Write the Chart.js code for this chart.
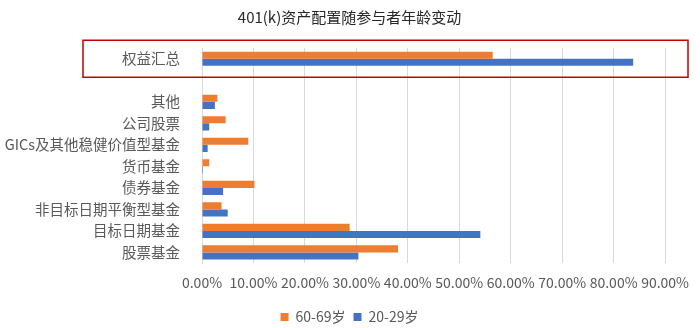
<!DOCTYPE html>
<html>
<head>
<meta charset="utf-8">
<script src="https://cdn.jsdelivr.net/npm/chart.js@4/dist/chart.umd.min.js"></script>
<style>
  html, body { margin: 0; padding: 0; background: #fff; }
  #wrap { width: 700px; height: 328px; position: relative; }
</style>
</head>
<body>
<div id="wrap"><canvas id="assetChart"></canvas></div>
<script>
const categories = ["权益汇总", "", "其他", "公司股票", "GICs及其他稳健价值型基金", "货币基金", "债券基金", "非目标日期平衡型基金", "目标日期基金", "股票基金"];
const age6069 = [56.5, null, 3.0, 4.6, 9.0, 1.4, 10.2, 3.8, 28.7, 38.1];
const age2029 = [83.8, null, 2.5, 1.4, 1.1, 0.2, 4.1, 5.0, 54.1, 30.4];
const seriesNames = ["60-69岁", "20-29岁"];

const FONT = "'Microsoft YaHei', 'Noto Sans CJK SC', sans-serif";

// 红框圈出“权益汇总”
const redBox = {
  id: "redBox",
  afterDraw(chart) {
    const y = chart.scales.y;
    const cy = y.getPixelForValue(0);
    const c = chart.ctx;
    c.save();
    c.strokeStyle = "#c00000";
    c.lineWidth = 1.5;
    c.strokeRect(83, cy - 18.5, 605, 37);
    c.restore();
  }
};

new Chart(document.getElementById("assetChart").getContext("2d"), {
  type: "bar",
  data: {
    labels: categories,
    datasets: [
      { label: seriesNames[0], data: age6069, backgroundColor: "#ED7D31" },
      { label: seriesNames[1], data: age2029, backgroundColor: "#4472C4" }
    ]
  },
  options: {
    indexAxis: "y",
    responsive: true,
    maintainAspectRatio: false,
    animation: false,
    layout: { padding: { left: 2, right: 3, top: 4, bottom: -6 } },
    datasets: { bar: { categoryPercentage: 0.66, barPercentage: 1.0 } },
    scales: {
      x: {
        min: 0,
        max: 90,
        ticks: {
          stepSize: 10,
          padding: 11,
          maxRotation: 0,
          minRotation: 0,
          autoSkip: false,
          color: "#595959",
          font: { family: FONT, size: 14 },
          callback: v => v.toFixed(2) + "%"
        },
        grid: { color: "#d9d9d9", drawTicks: false },
        border: { display: false }
      },
      y: {
        afterFit: s => { s.width = 200; },
        ticks: { color: "#595959", padding: 14, autoSkip: false, font: { family: FONT, size: 14.5 } },
        grid: { display: false },
        border: { color: "#d9d9d9" }
      }
    },
    plugins: {
      title: {
        display: true,
        text: "401(k)资产配置随参与者年龄变动",
        color: "#262626",
        font: { family: FONT, size: 15, weight: "normal" },
        padding: { top: 4, bottom: 22 }
      },
      legend: {
        position: "bottom",
        labels: {
          color: "#595959",
          boxWidth: 8,
          boxHeight: 8,
          padding: 8,
          font: { family: FONT, size: 14 }
        }
      },
      tooltip: { enabled: false }
    }
  },
  plugins: [redBox]
});
</script>
</body>
</html>
